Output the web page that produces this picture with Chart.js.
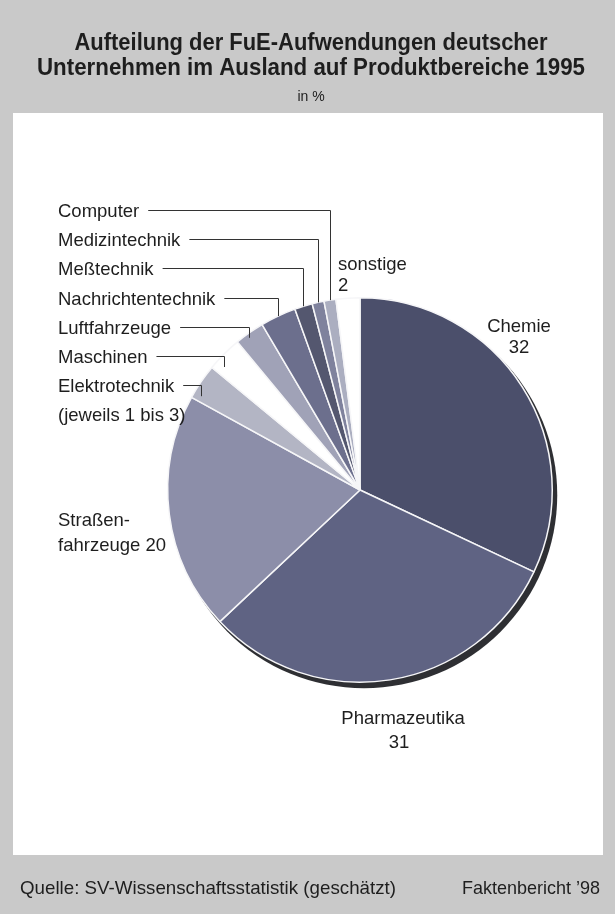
<!DOCTYPE html>
<html lang="de">
<head>
<meta charset="utf-8">
<title>FuE-Aufwendungen im Ausland 1995</title>
<script src="https://cdn.jsdelivr.net/npm/chart.js@4.4.1/dist/chart.umd.min.js"></script>
<style>
  html, body { margin: 0; padding: 0; background: #c9c9c9; }
  #wrap { position: relative; width: 615px; height: 914px; }
</style>
</head>
<body>
<div id="wrap"><canvas id="pie" width="615" height="914"></canvas></div>
<script>
// Anteile der Produktbereiche in %
const categories = ['Chemie', 'Pharmazeutika', 'Straßenfahrzeuge', 'Elektrotechnik', 'Maschinen',
  'Luftfahrzeuge', 'Nachrichtentechnik', 'Meßtechnik', 'Medizintechnik', 'Computer', 'sonstige'];
const shares = [32, 31, 20, 3, 3, 2.5, 3, 1.5, 1, 1, 2];
const sliceColors = ['#4b4f6b', '#5f6383', '#8c8ea9', '#b3b5c4', '#ffffff',
  '#a0a2b7', '#6c6f8d', '#54576f', '#7f829d', '#abaec0', '#ffffff'];

// kleine Bereiche links mit Hinweislinien, von oben nach unten
const leaderLabels = ['Computer', 'Medizintechnik', 'Meßtechnik', 'Nachrichtentechnik',
  'Luftfahrzeuge', 'Maschinen', 'Elektrotechnik'];

const FONT = "'Liberation Sans', Arial, sans-serif";
const INK = '#1e1e1e';

const annotate = {
  id: 'annotate',
  beforeDraw(chart) {
    const ctx = chart.ctx;
    ctx.save();
    ctx.fillStyle = '#ffffff';
    ctx.fillRect(13, 113, 590, 742);

    ctx.fillStyle = INK;
    ctx.textAlign = 'center';
    ctx.textBaseline = 'alphabetic';
    ctx.font = 'bold 24px ' + FONT;
    ctx.fillText('Aufteilung der FuE-Aufwendungen deutscher', 311, 50, 473);
    ctx.fillText('Unternehmen im Ausland auf Produktbereiche 1995', 311, 75, 548);
    ctx.font = '14px ' + FONT;
    ctx.fillText('in %', 311, 101, 30);

    ctx.font = '19px ' + FONT;
    ctx.textAlign = 'left';
    ctx.fillText('Quelle: SV-Wissenschaftsstatistik (geschätzt)', 20, 894, 376);
    ctx.textAlign = 'right';
    ctx.fillText('Faktenbericht \u201998', 600, 894, 138);
    ctx.restore();
  },
  beforeDatasetsDraw(chart) {
    // dunkler Schatten unten rechts
    const ctx = chart.ctx;
    const arc = chart.getDatasetMeta(0).data[0];
    ctx.save();
    ctx.fillStyle = '#2e2f33';
    ctx.beginPath();
    ctx.arc(arc.x + 4, arc.y + 5, arc.outerRadius + 1, 0, Math.PI * 2);
    ctx.fill();
    ctx.restore();
  },
  afterDraw(chart) {
    const ctx = chart.ctx;
    const meta = chart.getDatasetMeta(0);
    ctx.save();
    ctx.fillStyle = INK;
    ctx.strokeStyle = '#333333';
    ctx.lineWidth = 1;
    ctx.font = '18.5px ' + FONT;
    ctx.textBaseline = 'middle';

    // Beschriftung der großen Segmente
    ctx.textAlign = 'center';
    ctx.fillText('Chemie', 519, 327);
    ctx.fillText(String(shares[0]), 519, 348);
    ctx.fillText('Pharmazeutika', 403, 719);
    ctx.fillText(String(shares[1]), 399, 743);
    ctx.textAlign = 'left';
    ctx.fillText('Straßen-', 58, 521);
    ctx.fillText('fahrzeuge ' + shares[2], 58, 546);
    ctx.fillText('sonstige', 338, 265);
    ctx.fillText(String(shares[10]), 338, 286);

    // linke Liste mit Hinweislinien
    const rowTop = 212, rowStep = 29.2;
    leaderLabels.forEach((name, k) => {
      const y = rowTop + k * rowStep;
      ctx.fillText(name, 58, y);
      const textEnd = 58 + ctx.measureText(name).width;
      const el = meta.data[categories.indexOf(name)];
      const mid = (el.startAngle + el.endAngle) / 2;
      let ax = el.x + el.outerRadius * Math.cos(mid);
      let ay = el.y + el.outerRadius * Math.sin(mid);
      ax = Math.max(ax, textEnd + 12);
      if (ay < y + 9) ay = y + 9;
      const ly = Math.round(y) - 1.5;
      ctx.beginPath();
      ctx.moveTo(textEnd + 9, ly);
      ctx.lineTo(Math.round(ax) + 0.5, ly);
      ctx.lineTo(Math.round(ax) + 0.5, ay);
      ctx.stroke();
    });
    ctx.fillText('(jeweils 1 bis 3)', 58, rowTop + leaderLabels.length * rowStep);
    ctx.restore();
  }
};

new Chart(document.getElementById('pie').getContext('2d'), {
  type: 'pie',
  data: {
    labels: categories,
    datasets: [{
      data: shares,
      backgroundColor: sliceColors,
      borderColor: '#f6f6f8',
      borderWidth: 1.5
    }]
  },
  options: {
    responsive: false,
    animation: false,
    events: [],
    layout: { padding: { left: 167, right: 62, top: 297, bottom: 231 } },
    plugins: {
      legend: { display: false },
      title: { display: false },
      tooltip: { enabled: false }
    }
  },
  plugins: [annotate]
});
</script>
</body>
</html>
